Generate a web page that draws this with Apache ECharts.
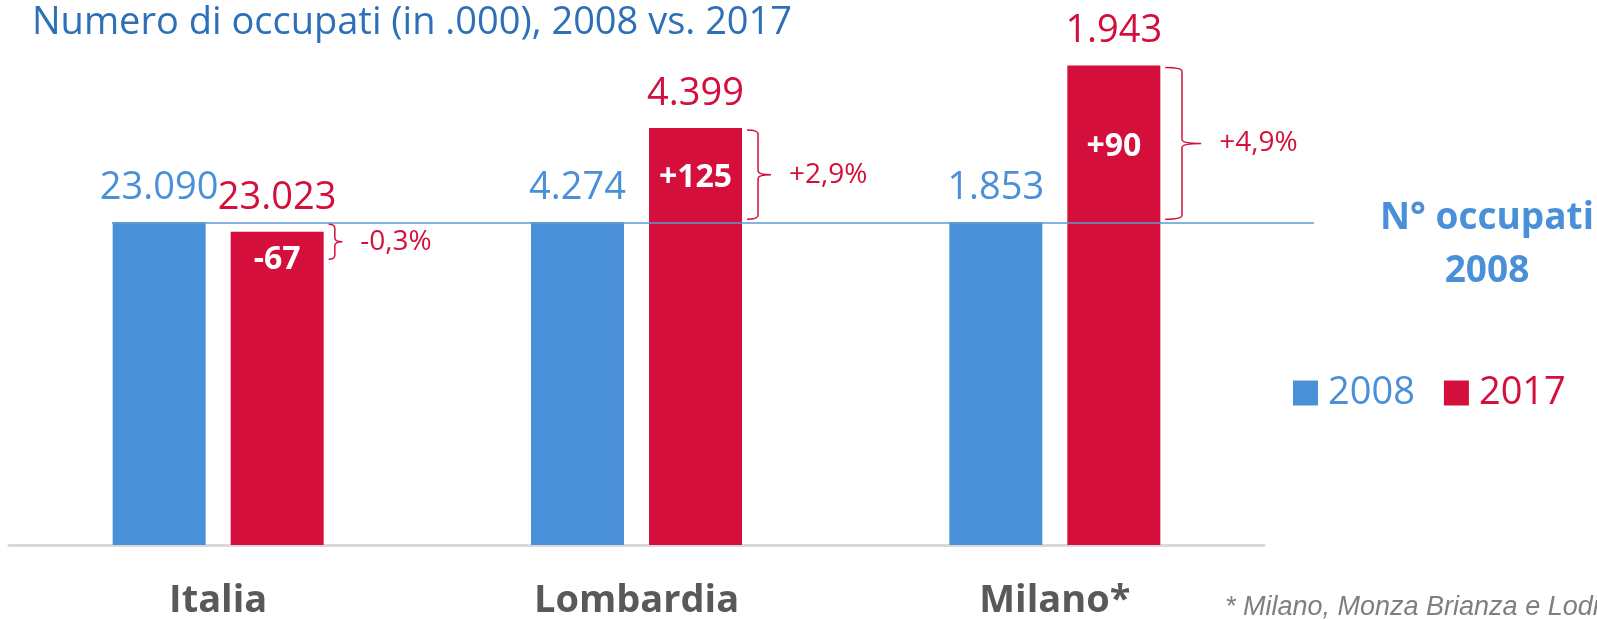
<!DOCTYPE html>
<html>
<head>
<meta charset="utf-8">
<script src="https://cdn.jsdelivr.net/npm/echarts@6/dist/echarts.min.js"></script>
<style>
  html, body { margin: 0; padding: 0; background: #fff; }
  #chart { width: 1597px; height: 620px; }
</style>
</head>
<body>
<div id="chart"></div>
<script>
// occupati in migliaia
var categories = ['Italia', 'Lombardia', 'Milano*'];
var occ2008 = [23090, 4274, 1853];
var occ2017 = [23023, 4399, 1943];

var BLUE = '#4a90d9';
var RED = '#d40f3b';
var BAR_W = 93;
var GAP = 25;
var FONT = '"Open Sans", "Noto Sans", sans-serif';

// each group is drawn as an index on its own 2008 value (2008 = 100)
var idx2008 = occ2008.map(function (v, i) { return v / occ2008[i] * 100; });
var idx2017 = occ2017.map(function (v, i) { return v / occ2008[i] * 100; });

function fmt(n) {
  return String(n).replace(/\B(?=(\d{3})+(?!\d))/g, '.');
}
function signed(s, n) {
  return (n > 0 ? '+' : '') + s;
}

var chartDom = document.getElementById('chart');
var myChart = echarts.init(chartDom);

var option = {
  animation: false,
  title: {
    text: 'Numero di occupati (in .000), 2008 vs. 2017',
    left: 32,
    top: 4,
    padding: 0,
    textStyle: { fontFamily: FONT, fontWeight: 'normal', fontSize: 38, color: '#2e70b8' }
  },
  legend: {
    left: 1288,
    top: 369,
    icon: 'rect',
    itemWidth: 25,
    itemHeight: 25,
    itemGap: 29,
    selectedMode: false,
    textStyle: { fontFamily: FONT, fontSize: 38, padding: [0, 0, 0, 5] },
    data: [
      { name: '2008', textStyle: { color: BLUE } },
      { name: '2017', textStyle: { color: RED } }
    ]
  },
  grid: { left: 9, right: 333, top: 61, bottom: 73 },
  xAxis: {
    type: 'category',
    data: categories,
    axisLine: { lineStyle: { color: '#d9d9d9', width: 3 } },
    axisTick: { show: false },
    axisLabel: {
      margin: 37,
      fontFamily: FONT,
      fontWeight: 'bold',
      fontSize: 38,
      color: '#595959'
    }
  },
  yAxis: {
    type: 'value',
    min: 90,
    max: 105,
    show: false,
    splitLine: { show: false }
  },
  graphic: [
    {
      type: 'text',
      x: 1487,
      y: 245,
      style: {
        text: 'N° occupati\n2008',
        align: 'center',
        verticalAlign: 'middle',
        lineHeight: 53,
        font: 'bold 37px ' + FONT,
        fill: BLUE
      }
    },
    {
      type: 'text',
      x: 1225,
      y: 607,
      style: {
        text: '* Milano, Monza Brianza e Lodi',
        verticalAlign: 'middle',
        font: 'italic 27px "Liberation Sans", Arial, sans-serif',
        fill: '#7f7f7f'
      }
    }
  ],
  series: [
    {
      name: '2008',
      type: 'bar',
      data: idx2008,
      barWidth: BAR_W,
      barGap: (GAP / BAR_W * 100).toFixed(1) + '%',
      itemStyle: { color: BLUE },
      label: {
        show: true,
        position: 'top',
        distance: 15,
        fontFamily: FONT,
        fontSize: 38,
        color: BLUE,
        formatter: function (p) { return fmt(occ2008[p.dataIndex]); }
      },
      markLine: {
        silent: true,
        symbol: 'none',
        label: { show: false },
        lineStyle: { color: '#5b9bd5', width: 1.5, type: 'solid' },
        data: [[{ coord: [0, 100], x: 112 }, { coord: [2, 100], x: 1314 }]]
      }
    },
    {
      name: '2017',
      type: 'bar',
      data: idx2017,
      barWidth: BAR_W,
      itemStyle: { color: RED },
      label: {
        show: true,
        position: 'top',
        distance: 15,
        fontFamily: FONT,
        fontSize: 38,
        color: RED,
        formatter: function (p) { return fmt(occ2017[p.dataIndex]); }
      }
    },
    {
      // brackets, differences and percentage changes
      type: 'custom',
      coordinateSystem: 'cartesian2d',
      silent: true,
      z: 5,
      encode: { x: 0, y: 1 },
      data: categories.map(function (c, i) { return [i, idx2017[i], idx2008[i]]; }),
      renderItem: function (params, api) {
        var i = params.dataIndex;
        var p17 = api.coord([api.value(0), api.value(1)]);
        var p08 = api.coord([api.value(0), api.value(2)]);
        var redRight = p17[0] + GAP / 2 + BAR_W;
        var redCenter = p17[0] + GAP / 2 + BAR_W / 2;
        var yTop = Math.min(p17[1], p08[1]) + 2;
        var yBot = Math.max(Math.max(p17[1], p08[1]) - 3, yTop + 35);
        var h = yBot - yTop;
        var yMid = (yTop + yBot) / 2;
        var x0 = redRight + 5;
        var xv = redRight + 8 + h * 0.09;
        var xt = xv + 4 + h * 0.1;
        var r = 4;
        var path = 'M' + x0 + ',' + yTop +
          ' Q' + xv + ',' + yTop + ' ' + xv + ',' + (yTop + r) +
          ' L' + xv + ',' + (yMid - r) +
          ' Q' + xv + ',' + yMid + ' ' + xt + ',' + yMid +
          ' Q' + xv + ',' + yMid + ' ' + xv + ',' + (yMid + r) +
          ' L' + xv + ',' + (yBot - r) +
          ' Q' + xv + ',' + yBot + ' ' + x0 + ',' + yBot;
        var diff = occ2017[i] - occ2008[i];
        var pct = (occ2017[i] / occ2008[i] - 1) * 100;
        var pctText = signed(pct.toFixed(1).replace('.', ','), pct) + '%';
        return {
          type: 'group',
          children: [
            {
              type: 'path',
              shape: { pathData: path },
              style: { stroke: RED, lineWidth: 1.5, fill: null }
            },
            {
              type: 'text',
              x: xt + 18,
              y: yMid,
              style: {
                text: pctText,
                align: 'left',
                verticalAlign: 'middle',
                font: '28px ' + FONT,
                fill: RED
              }
            },
            {
              type: 'text',
              x: redCenter,
              y: Math.max(yMid + 3, p17[1] + 28),
              style: {
                text: signed(String(diff), diff),
                align: 'center',
                verticalAlign: 'middle',
                font: 'bold 32px ' + FONT,
                fill: '#ffffff'
              }
            }
          ]
        };
      }
    }
  ]
};

option && myChart.setOption(option);
</script>
</body>
</html>
